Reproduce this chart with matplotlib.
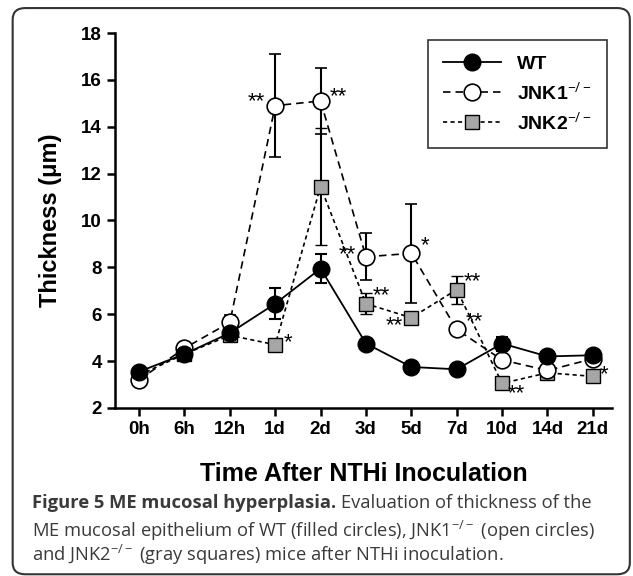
import matplotlib.pyplot as plt
import numpy as np
from matplotlib.patches import FancyBboxPatch
from matplotlib.lines import Line2D

plt.rcParams['font.family'] = ['Liberation Sans', 'DejaVu Sans']
plt.rcParams['mathtext.fontset'] = 'custom'
plt.rcParams['mathtext.rm'] = 'Open Sans'
plt.rcParams['mathtext.it'] = 'Liberation Sans:bold:italic'
plt.rcParams['mathtext.bf'] = 'Liberation Sans:bold'

times = ["0h", "6h", "12h", "1d", "2d", "3d", "5d", "7d", "10d", "14d", "21d"]

wt = [3.55, 4.3, 5.2, 6.45, 7.95, 4.75, 3.75, 3.65, 4.75, 4.2, 4.25]
wt_err = [0.1, 0.1, 0.15, 0.65, 0.6, 0.1, 0.1, 0.1, 0.3, 0.1, 0.1]

jnk1 = [3.2, 4.55, 5.65, 14.9, 15.1, 8.45, 8.6, 5.35, 4.05, 3.6, 4.1]
jnk1_err = [0.1, 0.1, 0.3, 2.2, 1.4, 1.0, 2.1, 0.1, 0.1, 0.1, 0.1]

jnk2 = [3.4, 4.3, 5.1, 4.7, 11.45, 6.45, 5.85, 7.05, 3.05, 3.5, 3.35]
jnk2_err = [0.1, 0.1, 0.1, 0.1, 2.5, 0.45, 0.1, 0.6, 0.1, 0.1, 0.1]

# significance marks: (series, index, text, dx px, dy px, ha)
stars = [
    ("jnk1", 3, "**", -10, 4, "right"),
    ("jnk1", 4, "**", 9, 4, "left"),
    ("jnk1", 5, "**", -10, 2, "right"),
    ("jnk1", 6, "*", 9, 8, "left"),
    ("jnk1", 7, "**", 9, 8, "left"),
    ("jnk2", 3, "*", 8, 2, "left"),
    ("jnk2", 5, "**", 7, 8, "left"),
    ("jnk2", 6, "**", -8, -8, "right"),
    ("jnk2", 7, "**", 7, 8, "left"),
    ("jnk2", 8, "**", 6, -10, "left"),
    ("jnk2", 10, "*", 7, 2, "left"),
]

x = np.arange(len(times))

fig = plt.figure(figsize=(6.33, 5.76), dpi=100)
fig.patches.append(FancyBboxPatch((0.02, 0.003), 0.975, 0.983, boxstyle="round,pad=0,rounding_size=0.02",
                                  transform=fig.transFigure, fill=False, ec="#333333", lw=1.5))
ax = fig.add_axes([0.1817, 0.2917, 0.785, 0.651])

st2 = dict(color="black", ls=(0, (2.5, 2)), lw=1.2, marker="s", ms=9.5, mfc="#a6a6a6", mec="black", mew=1.0)
st1 = dict(color="black", ls=(0, (4.5, 3)), lw=1.2, marker="o", ms=12, mfc="white", mec="black", mew=1.2)
st0 = dict(color="black", ls="-", lw=1.3, marker="o", ms=12, mfc="black", mec="black")
eb = dict(ecolor="black", elinewidth=1.5, capsize=4, capthick=1.5)

ax.errorbar(x, jnk2, yerr=jnk2_err, zorder=2, **st2, **eb)
ax.errorbar(x, jnk1, yerr=jnk1_err, zorder=3, **st1, **eb)
ax.errorbar(x, wt, yerr=wt_err, zorder=4, **st0, **eb)

data = {"jnk1": jnk1, "jnk2": jnk2}
for s, i, t, dx, dy, ha in stars:
    ax.annotate(t, (x[i], data[s][i]), xytext=(dx * 0.72, dy * 0.72), textcoords="offset points",
                ha=ha, va="center", fontsize=16)

ax.set_xlim(-0.53, 10.42)
ax.set_ylim(2, 18)
ax.set_yticks(np.arange(2, 19, 2))
ax.set_xticks(x)
ax.set_xticklabels(times)
for sp in ["top", "right"]:
    ax.spines[sp].set_visible(False)
for sp in ["left", "bottom"]:
    ax.spines[sp].set_linewidth(1.8)
ax.tick_params(width=1.8, length=6, labelsize=13.5)
for lab in ax.get_xticklabels() + ax.get_yticklabels():
    lab.set_fontweight("bold")

ax.set_ylabel("Thickness (μm)", fontsize=17, fontweight="bold", labelpad=14)
ax.set_xlabel("Time After NTHi Inoculation", fontsize=18, fontweight="bold", labelpad=17)

handles = [Line2D([], [], **st0), Line2D([], [], **st1), Line2D([], [], **st2)]
labels = ["WT", r"JNK1$^{\mathit{-/-}}$", r"JNK2$^{\mathit{-/-}}$"]
leg = ax.legend(handles, labels, loc="upper right", bbox_to_anchor=(0.99, 0.981), borderaxespad=0,
                fancybox=False, edgecolor="black", prop={"weight": "bold", "size": 14}, handlelength=3.0,
                borderpad=0.8, labelspacing=0.4, handletextpad=0.8)
leg.get_frame().set_linewidth(1.2)

cap_font = dict(fontsize=13.2, color="#3a3a3a", va="center", family=["Open Sans", "DejaVu Sans"])
y1, y2, y3 = 1 - 503 / 576, 1 - 531 / 576, 1 - 555 / 576
t1 = fig.text(0.05, y1, "Figure 5 ME mucosal hyperplasia.", fontweight="bold", **cap_font)
fig.canvas.draw()
bb = t1.get_window_extent(fig.canvas.get_renderer())
fig.text(bb.x1 / fig.bbox.width + 0.008, y1, "Evaluation of thickness of the", **cap_font)
fig.text(0.05, y2, r"ME mucosal epithelium of WT (filled circles), JNK1$^{-/-}$ (open circles)", **cap_font)
fig.text(0.05, y3, r"and JNK2$^{-/-}$ (gray squares) mice after NTHi inoculation.", **cap_font)

plt.savefig("out.png", dpi=100)
